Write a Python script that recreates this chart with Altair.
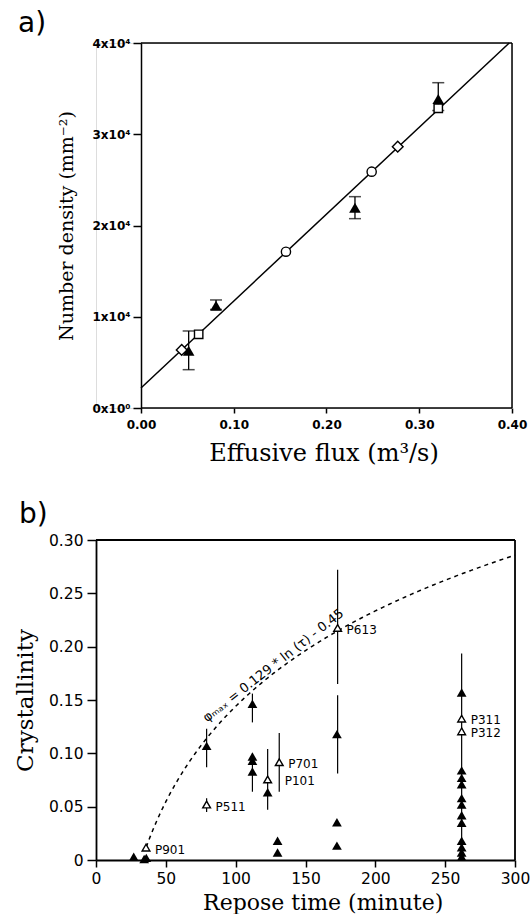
import altair as alt
import pandas as pd
import numpy as np

# ---------------- panel a data ----------------
tri_flux = [0.0514, 0.0809, 0.2307, 0.3205]
tri_dens = [6280, 11210, 21950, 33860]
tri_lo = [4200, 10800, 20750, 32600]
tri_hi = [8440, 11840, 23160, 35650]
circ_flux = [0.1563, 0.2487]
circ_dens = [17130, 25900]
diam_flux = [0.0439, 0.2768]
diam_dens = [6360, 28640]
sq_flux = [0.0622, 0.3205]
sq_dens = [8080, 32840]
fit_flux = [0.0, 0.397]
fit_dens = [2200, 40000]
a_xticks = [0.0, 0.1, 0.2, 0.3, 0.4]
a_yticks = [0, 10000, 20000, 30000, 40000]
a_xlim = [0.0, 0.40]
a_ylim = [0, 40000]

# ---------------- panel b data ----------------
solid_t = [27, 34.5, 36, 79.2, 112, 112, 112, 112, 122.9, 130, 130,
           172.5, 172.5, 172.5,
           261.8, 261.8, 261.8, 261.8, 261.8, 261.8, 261.8, 261.8, 261.8, 261.8, 261.8, 261.8]
solid_c = [0.003, 0.001, 0.002, 0.107, 0.1465, 0.097, 0.093, 0.083, 0.0636, 0.018, 0.007,
           0.118, 0.0354, 0.0135,
           0.157, 0.084, 0.077, 0.071, 0.058, 0.052, 0.042, 0.035, 0.018, 0.012, 0.007, 0.003]
open_t = [35.8, 79.2, 122.9, 131.2, 173, 261.8, 261.8]
open_c = [0.0116, 0.052, 0.0755, 0.0917, 0.2176, 0.1325, 0.1206]
open_name = ["P901", "P511", "P101", "P701", "P613", "P311", "P312"]
err_t = [79.2, 79.2, 112, 112, 122.9, 131.2, 173, 173, 261.8]
err_lo = [0.087, 0.045, 0.129, 0.064, 0.047, 0.064, 0.165, 0.081, 0.0]
err_hi = [0.123, 0.058, 0.156, 0.100, 0.104, 0.119, 0.272, 0.1544, 0.1935]
b_xticks = [0, 50, 100, 150, 200, 250, 300]
b_yticks = [0, 0.05, 0.10, 0.15, 0.20, 0.25, 0.30]
b_xlim = [0, 300]
b_ylim = [0, 0.30]
fit_coef = 0.129
fit_const = -0.45
fit_tau = list(np.arange(36, 300.5, 1.0))
ann_text = ["φₘₐₓ = 0.129 * ln (τ) - 0.45"]
ann_t = [79.5]
ann_c = [0.129]

# ---------------- panel a ----------------
XA = alt.X("x:Q", scale=alt.Scale(domain=[-0.0485, 0.40], nice=False, zero=False),
           axis=alt.Axis(values=a_xticks, format=".2f", domain=False, grid=False,
                         tickSize=5, tickWidth=1.5, tickColor="black",
                         labelFont="DejaVu Sans", labelFontWeight="bold", labelFontSize=12,
                         labelColor="black", labelPadding=6, labelFlush=False, labelOverlap=False,
                         title="Effusive flux (m³/s)", titleFont="DejaVu Serif", titleFontSize=24,
                         titleFontWeight="normal", titleColor="black",
                         titleX=227.5, titleY=52, titleBaseline="alphabetic"))
YA = alt.Y("y:Q", scale=alt.Scale(domain=a_ylim, nice=False, zero=False),
           axis=alt.Axis(values=a_yticks, offset=-45, domain=True, domainColor="black", domainWidth=1.5,
                         grid=False, tickSize=8, tickWidth=1.5, tickColor="black",
                         labelExpr="datum.value == 0 ? '0x10⁰' : format(datum.value / 10000, 'd') + 'x10⁴'",
                         labelFont="DejaVu Sans", labelFontWeight="bold", labelFontSize=12,
                         labelColor="black", labelPadding=3, labelFlush=False, labelOverlap=False,
                         title="Number density (mm⁻²)", titleFont="DejaVu Serif", titleFontSize=19,
                         titleFontWeight="normal", titleColor="black",
                         titleX=-69, titleAngle=270, titleBaseline="alphabetic"))

frame_a = pd.DataFrame({
    "x": [a_xlim[0], a_xlim[0], a_xlim[1]],
    "x2": [a_xlim[1], a_xlim[1], a_xlim[1]],
    "y": [a_ylim[0], a_ylim[1], a_ylim[0]],
    "y2": [a_ylim[0], a_ylim[1], a_ylim[1]],
})
fit_a = pd.DataFrame({"x": [fit_flux[0]], "x2": [fit_flux[1]], "y": [fit_dens[0]], "y2": [fit_dens[1]]})
err_a = pd.DataFrame({"x": tri_flux, "y": tri_lo, "y2": tri_hi})
caps_a = pd.DataFrame({"x": tri_flux + tri_flux, "y": tri_lo + tri_hi})
tri_a = pd.DataFrame({"x": tri_flux, "y": tri_dens})
circ_a = pd.DataFrame({"x": circ_flux, "y": circ_dens})
diam_a = pd.DataFrame({"x": diam_flux, "y": diam_dens})
sq_a = pd.DataFrame({"x": sq_flux, "y": sq_dens})

a_frame = alt.Chart(frame_a).mark_rule(color="black", strokeWidth=1.5).encode(
    x=XA, x2="x2:Q", y=YA, y2="y2:Q")
a_fit = alt.Chart(fit_a).mark_rule(color="black", strokeWidth=1.5).encode(
    x=XA, x2="x2:Q", y=YA, y2="y2:Q")
a_err = alt.Chart(err_a).mark_rule(color="black", strokeWidth=1.3).encode(x=XA, y=YA, y2="y2:Q")
a_caps = alt.Chart(caps_a).mark_tick(color="black", orient="horizontal", size=12, thickness=1.5).encode(x=XA, y=YA)
a_circ = alt.Chart(circ_a).mark_point(shape="circle", filled=True, fill="white", stroke="black",
                                      strokeWidth=1.4, size=85, opacity=1).encode(x=XA, y=YA)
a_diam = alt.Chart(diam_a).mark_point(shape="diamond", filled=True, fill="white", stroke="black",
                                      strokeWidth=1.4, size=115, opacity=1).encode(x=XA, y=YA)
a_sq = alt.Chart(sq_a).mark_point(shape="square", filled=True, fill="white", stroke="black",
                                  strokeWidth=1.4, size=70, opacity=1).encode(x=XA, y=YA)
a_tri = alt.Chart(tri_a).mark_point(shape="triangle-up", filled=True, color="black",
                                    size=135, opacity=1).encode(x=XA, y=YA)
a_lab = alt.Chart(pd.DataFrame({"t": ["a)"]})).mark_text(
    font="DejaVu Sans", fontSize=28, align="left", baseline="alphabetic", color="black").encode(
    text="t:N", x=alt.value(-78), y=alt.value(-11))

panel_a = alt.layer(a_frame, a_fit, a_err, a_caps, a_diam, a_circ, a_sq, a_tri, a_lab).properties(
    width=416, height=365)

# ---------------- panel b ----------------
XB = alt.X("x:Q", scale=alt.Scale(domain=b_xlim, nice=False, zero=False),
           axis=alt.Axis(values=b_xticks, format="d", domain=True, domainColor="black", domainWidth=1.8,
                         grid=False, tickSize=7, tickWidth=1.5, tickColor="black",
                         labelFont="DejaVu Sans", labelFontSize=15.5, labelColor="black",
                         labelPadding=4, labelFlush=False, labelOverlap=False,
                         title="Repose time (minute)", titleFont="DejaVu Serif", titleFontSize=22,
                         titleFontWeight="normal", titleColor="black",
                         titleX=226.7, titleY=49, titleBaseline="alphabetic"))
YB = alt.Y("y:Q", scale=alt.Scale(domain=b_ylim, nice=False, zero=False),
           axis=alt.Axis(values=b_yticks, domain=True, domainColor="black", domainWidth=1.8,
                         grid=False, tickSize=9, tickWidth=1.5, tickColor="black",
                         labelExpr="datum.value == 0 ? '0' : format(datum.value, '.2f')",
                         labelFont="DejaVu Sans", labelFontSize=15.5, labelColor="black",
                         labelPadding=4, labelFlush=False, labelOverlap=False,
                         title="Crystallinity", titleFont="DejaVu Serif", titleFontSize=23,
                         titleFontWeight="normal", titleColor="black",
                         titleX=-64, titleAngle=270, titleBaseline="alphabetic"))

frame_b = pd.DataFrame({
    "x": [b_xlim[0], b_xlim[1]],
    "x2": [b_xlim[1], b_xlim[1]],
    "y": [b_ylim[1], b_ylim[0]],
    "y2": [b_ylim[1], b_ylim[1]],
})
err_b = pd.DataFrame({"x": err_t, "y": err_lo, "y2": err_hi})
solid_b = pd.DataFrame({"x": solid_t, "y": solid_c})
open_b = pd.DataFrame({"x": open_t, "y": open_c, "name": open_name})
curve_b = pd.DataFrame({"x": fit_tau})
ann_b = pd.DataFrame({"x": ann_t, "y": ann_c, "txt": ann_text})

b_frame = alt.Chart(frame_b).mark_rule(color="black", strokeWidth=1.8).encode(
    x=XB, x2="x2:Q", y=YB, y2="y2:Q")
b_curve = alt.Chart(curve_b).transform_calculate(
    y=f"{fit_coef} * log(datum.x) + ({fit_const})").mark_line(
    color="black", strokeWidth=1.5, strokeDash=[4, 4]).encode(x=XB, y=YB)
b_err = alt.Chart(err_b).mark_rule(color="black", strokeWidth=1.2).encode(x=XB, y=YB, y2="y2:Q")
b_solid = alt.Chart(solid_b).mark_point(shape="triangle-up", filled=True, color="black",
                                        size=95, opacity=1).encode(x=XB, y=YB)
b_open = alt.Chart(open_b).mark_point(shape="triangle-up", filled=True, fill="white", stroke="black",
                                      strokeWidth=1.4, size=60, opacity=1).encode(x=XB, y=YB)
b_names = alt.Chart(open_b).transform_filter(
    "datum.name != 'P101' && datum.name != 'P311'").mark_text(
    font="DejaVu Sans", fontSize=12, align="left", baseline="middle", dx=9, dy=2, color="black").encode(
    x=XB, y=YB, text="name:N")
b_name311 = alt.Chart(open_b).transform_filter("datum.name == 'P311'").mark_text(
    font="DejaVu Sans", fontSize=12, align="left", baseline="middle", dx=9, dy=1, color="black").encode(
    x=XB, y=YB, text="name:N")
b_name101 = alt.Chart(open_b).transform_filter("datum.name == 'P101'").mark_text(
    font="DejaVu Sans", fontSize=12, align="left", baseline="middle", dx=17, dy=2, color="black").encode(
    x=XB, y=YB, text="name:N")
b_ann = alt.Chart(ann_b).mark_text(
    font="DejaVu Sans", fontSize=13, align="left", baseline="alphabetic", angle=322, color="black").encode(
    x=XB, y=YB, text="txt:N")
b_lab = alt.Chart(pd.DataFrame({"t": ["b)"]})).mark_text(
    font="DejaVu Sans", fontSize=28, align="left", baseline="alphabetic", color="black").encode(
    text="t:N", x=alt.value(-77), y=alt.value(-17))

panel_b = alt.layer(b_frame, b_curve, b_err, b_solid, b_open, b_names, b_name311, b_name101,
                    b_ann, b_lab).properties(width=419, height=320)

chart = alt.vconcat(panel_a, panel_b, spacing=34).properties(
    padding={"left": 13, "top": 9, "right": 0, "bottom": 0}
).configure_view(strokeWidth=0).configure(background="white")

chart.save("out.html", embed_options={"renderer": "svg", "actions": False})
